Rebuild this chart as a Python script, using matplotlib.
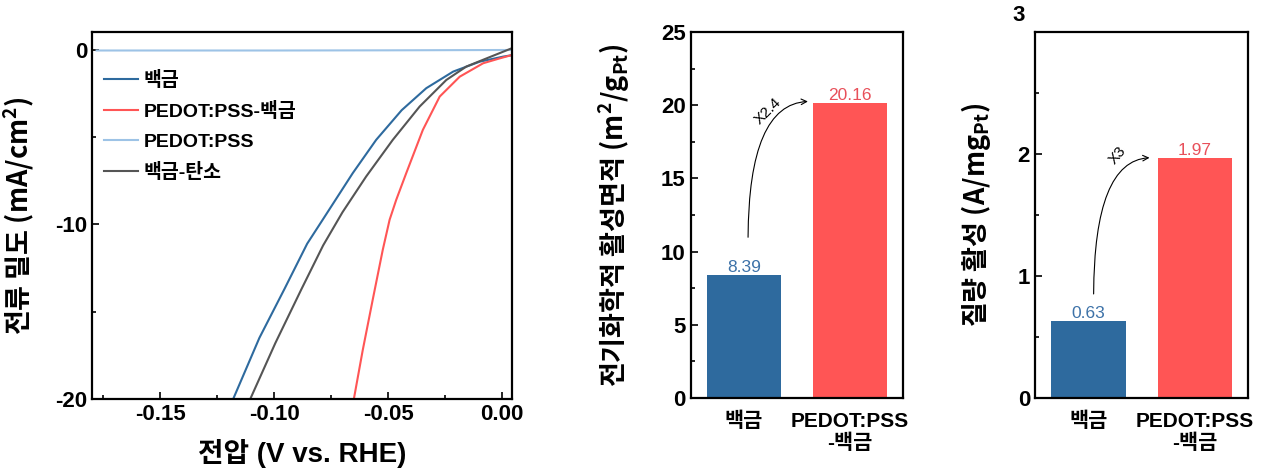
import matplotlib
matplotlib.use("Agg")
import matplotlib.pyplot as plt
from matplotlib.ticker import MultipleLocator, FormatStrFormatter

plt.rcParams['font.family'] = ['Liberation Sans', 'Noto Sans CJK KR']
plt.rcParams['font.weight'] = 'bold'
plt.rcParams['axes.labelweight'] = 'bold'
plt.rcParams['axes.linewidth'] = 1.6
plt.rcParams['axes.unicode_minus'] = False
plt.rcParams['mathtext.fontset'] = 'custom'
plt.rcParams['mathtext.rm'] = 'Noto Sans CJK KR:bold'
plt.rcParams['mathtext.bf'] = 'Noto Sans CJK KR:bold'
plt.rcParams['mathtext.it'] = 'Noto Sans CJK KR:bold'
plt.rcParams['mathtext.default'] = 'bf'
KR = 'Noto Sans CJK KR'

# LSV curves (V vs RHE, mA/cm2)
pt_v = [-0.1180, -0.1065, -0.0955, -0.0855, -0.0787, -0.0655, -0.0552, -0.0440, -0.0332, -0.0214, -0.0097, 0.0006, 0.0044]
pt_j = [-20.0, -16.5, -13.7, -11.1, -9.73, -7.06, -5.15, -3.45, -2.19, -1.24, -0.67, -0.38, -0.30]
pedot_pt_v = [-0.0650, -0.0611, -0.0567, -0.0523, -0.0493, -0.0464, -0.0420, -0.0347, -0.0273, -0.0185, -0.0082, -0.0009, 0.0044]
pedot_pt_j = [-20.0, -17.2, -14.3, -11.45, -9.73, -8.59, -7.06, -4.58, -2.67, -1.53, -0.76, -0.48, -0.29]
pedot_v = [-0.178, -0.10, -0.05, 0.0044]
pedot_j = [-0.03, -0.03, -0.02, 0.0]
ptc_v = [-0.1105, -0.0995, -0.0880, -0.0785, -0.0700, -0.0596, -0.0479, -0.0361, -0.0244, -0.0156, -0.0067, 0.0044]
ptc_j = [-20.0, -16.8, -13.7, -11.2, -9.3, -7.25, -5.15, -3.24, -1.72, -0.95, -0.48, 0.10]

# bar data
bar_names = ['백금', 'PEDOT:PSS\n-백금']
ecsa = [8.39, 20.16]
mass_act = [0.63, 1.97]
ecsa_ratio = 'X2.4'
mass_ratio = 'X3'

c_blue = '#2E6A9E'
c_red = '#FF5555'
c_lblue = '#9DC3E6'
c_gray = '#555555'
lab_blue = '#3D72A8'
lab_red = '#E8505A'

fig = plt.figure(figsize=(12.66, 4.72), dpi=100)

# ---- panel 1: LSV
ax1 = fig.add_axes([0.0727, 0.1547, 0.3318, 0.7775])
ax1.plot(pt_v, pt_j, color=c_blue, lw=1.5, label='백금')
ax1.plot(pedot_pt_v, pedot_pt_j, color=c_red, lw=1.5, label='PEDOT:PSS-백금')
ax1.plot(pedot_v, pedot_j, color=c_lblue, lw=1.5, label='PEDOT:PSS')
ax1.plot(ptc_v, ptc_j, color=c_gray, lw=1.5, label='백금-탄소')
ax1.set_xlim(-0.18, 0.0045)
ax1.set_ylim(-20, 1.03)
ax1.xaxis.set_major_locator(MultipleLocator(0.05))
ax1.xaxis.set_minor_locator(MultipleLocator(0.025))
ax1.xaxis.set_major_formatter(FormatStrFormatter('%.2f'))
ax1.yaxis.set_major_locator(MultipleLocator(10))
ax1.yaxis.set_minor_locator(MultipleLocator(5))
ax1.set_xlabel('전압 (V vs. RHE)', fontsize=20)
ax1.set_ylabel('전류 밀도 (mA/cm$^2$)', fontsize=19.5, family=KR)
ax1.xaxis.set_label_coords(0.5, -0.11)
ax1.yaxis.set_label_coords(-0.131, 0.5)
ax1.legend(loc='upper left', bbox_to_anchor=(0.0, 0.925), frameon=False,
           fontsize=14, handlelength=1.75, handletextpad=0.3, labelspacing=0.62,
           borderaxespad=0.2)

# ---- panel 2: ECSA
ax2 = fig.add_axes([0.5456, 0.1568, 0.1677, 0.7754])
ax2.bar([0, 1], ecsa, width=0.7, color=[c_blue, c_red])
ax2.set_xlim(-0.5, 1.5)
ax2.set_ylim(0, 25)
ax2.yaxis.set_major_locator(MultipleLocator(5))
ax2.yaxis.set_minor_locator(MultipleLocator(2.5))
ax2.set_xticks([0, 1])
ax2.set_xticklabels(bar_names)
ax2.set_ylabel('전기화학적 활성면적 (m$^2$/g$_{Pt}$)', fontsize=19.5, family=KR)
ax2.yaxis.set_label_coords(-0.276, 0.5)
ax2.text(0, ecsa[0], f'{ecsa[0]:.2f}', color=lab_blue, ha='center', va='bottom', fontsize=12.5, fontweight='normal')
ax2.text(1, ecsa[1], f'{ecsa[1]:.2f}', color=lab_red, ha='center', va='bottom', fontsize=12.5, fontweight='normal')
ax2.annotate('', xy=(0.63, ecsa[1] + 0.1), xytext=(0.04, ecsa[0] + 2.4),
             arrowprops=dict(arrowstyle='->', lw=0.8, color='black',
                             connectionstyle='angle3,angleA=90,angleB=0'))
ax2.text(0.23, 19.6, ecsa_ratio, rotation=45, ha='center', va='center', fontsize=11, fontweight='normal')

# ---- panel 3: mass activity
ax3 = fig.add_axes([0.8175, 0.1568, 0.1685, 0.7754])
ax3.bar([0, 1], mass_act, width=0.7, color=[c_blue, c_red])
ax3.set_xlim(-0.5, 1.5)
ax3.set_ylim(0, 3)
ax3.yaxis.set_minor_locator(MultipleLocator(0.5))
ax3.set_yticks([0, 1, 2, 3])
ax3.set_yticklabels(['0', '1', '2', ''])
ax3.annotate('3', xy=(0, 3), xycoords=('axes fraction', 'data'), xytext=(-7, 12),
             textcoords='offset points', ha='right', va='center', fontsize=16)
ax3.set_xticks([0, 1])
ax3.set_xticklabels(bar_names)
ax3.set_ylabel('질량 활성 (A/mg$_{Pt}$)', fontsize=19.5, family=KR)
ax3.yaxis.set_label_coords(-0.197, 0.5)
ax3.text(0, mass_act[0], f'{mass_act[0]:.2f}', color=lab_blue, ha='center', va='bottom', fontsize=12.5, fontweight='normal')
ax3.text(1, mass_act[1], f'{mass_act[1]:.2f}', color=lab_red, ha='center', va='bottom', fontsize=12.5, fontweight='normal')
ax3.annotate('', xy=(0.6, mass_act[1]), xytext=(0.05, mass_act[0] + 0.2),
             arrowprops=dict(arrowstyle='->', lw=0.8, color='black',
                             connectionstyle='angle3,angleA=90,angleB=0'))
ax3.text(0.27, 1.99, mass_ratio, rotation=50, ha='center', va='center', fontsize=11, fontweight='normal')

for ax in (ax1, ax2, ax3):
    ax.tick_params(which='both', direction='in', labelsize=16, width=1.2)
    ax.tick_params(which='major', length=5)
    ax.tick_params(which='minor', length=3)
for ax in (ax2, ax3):
    ax.tick_params(axis='x', which='both', length=0, pad=10, labelsize=15)
    ax.xaxis.set_minor_locator(plt.NullLocator())

fig.savefig('out.png', dpi=100)
